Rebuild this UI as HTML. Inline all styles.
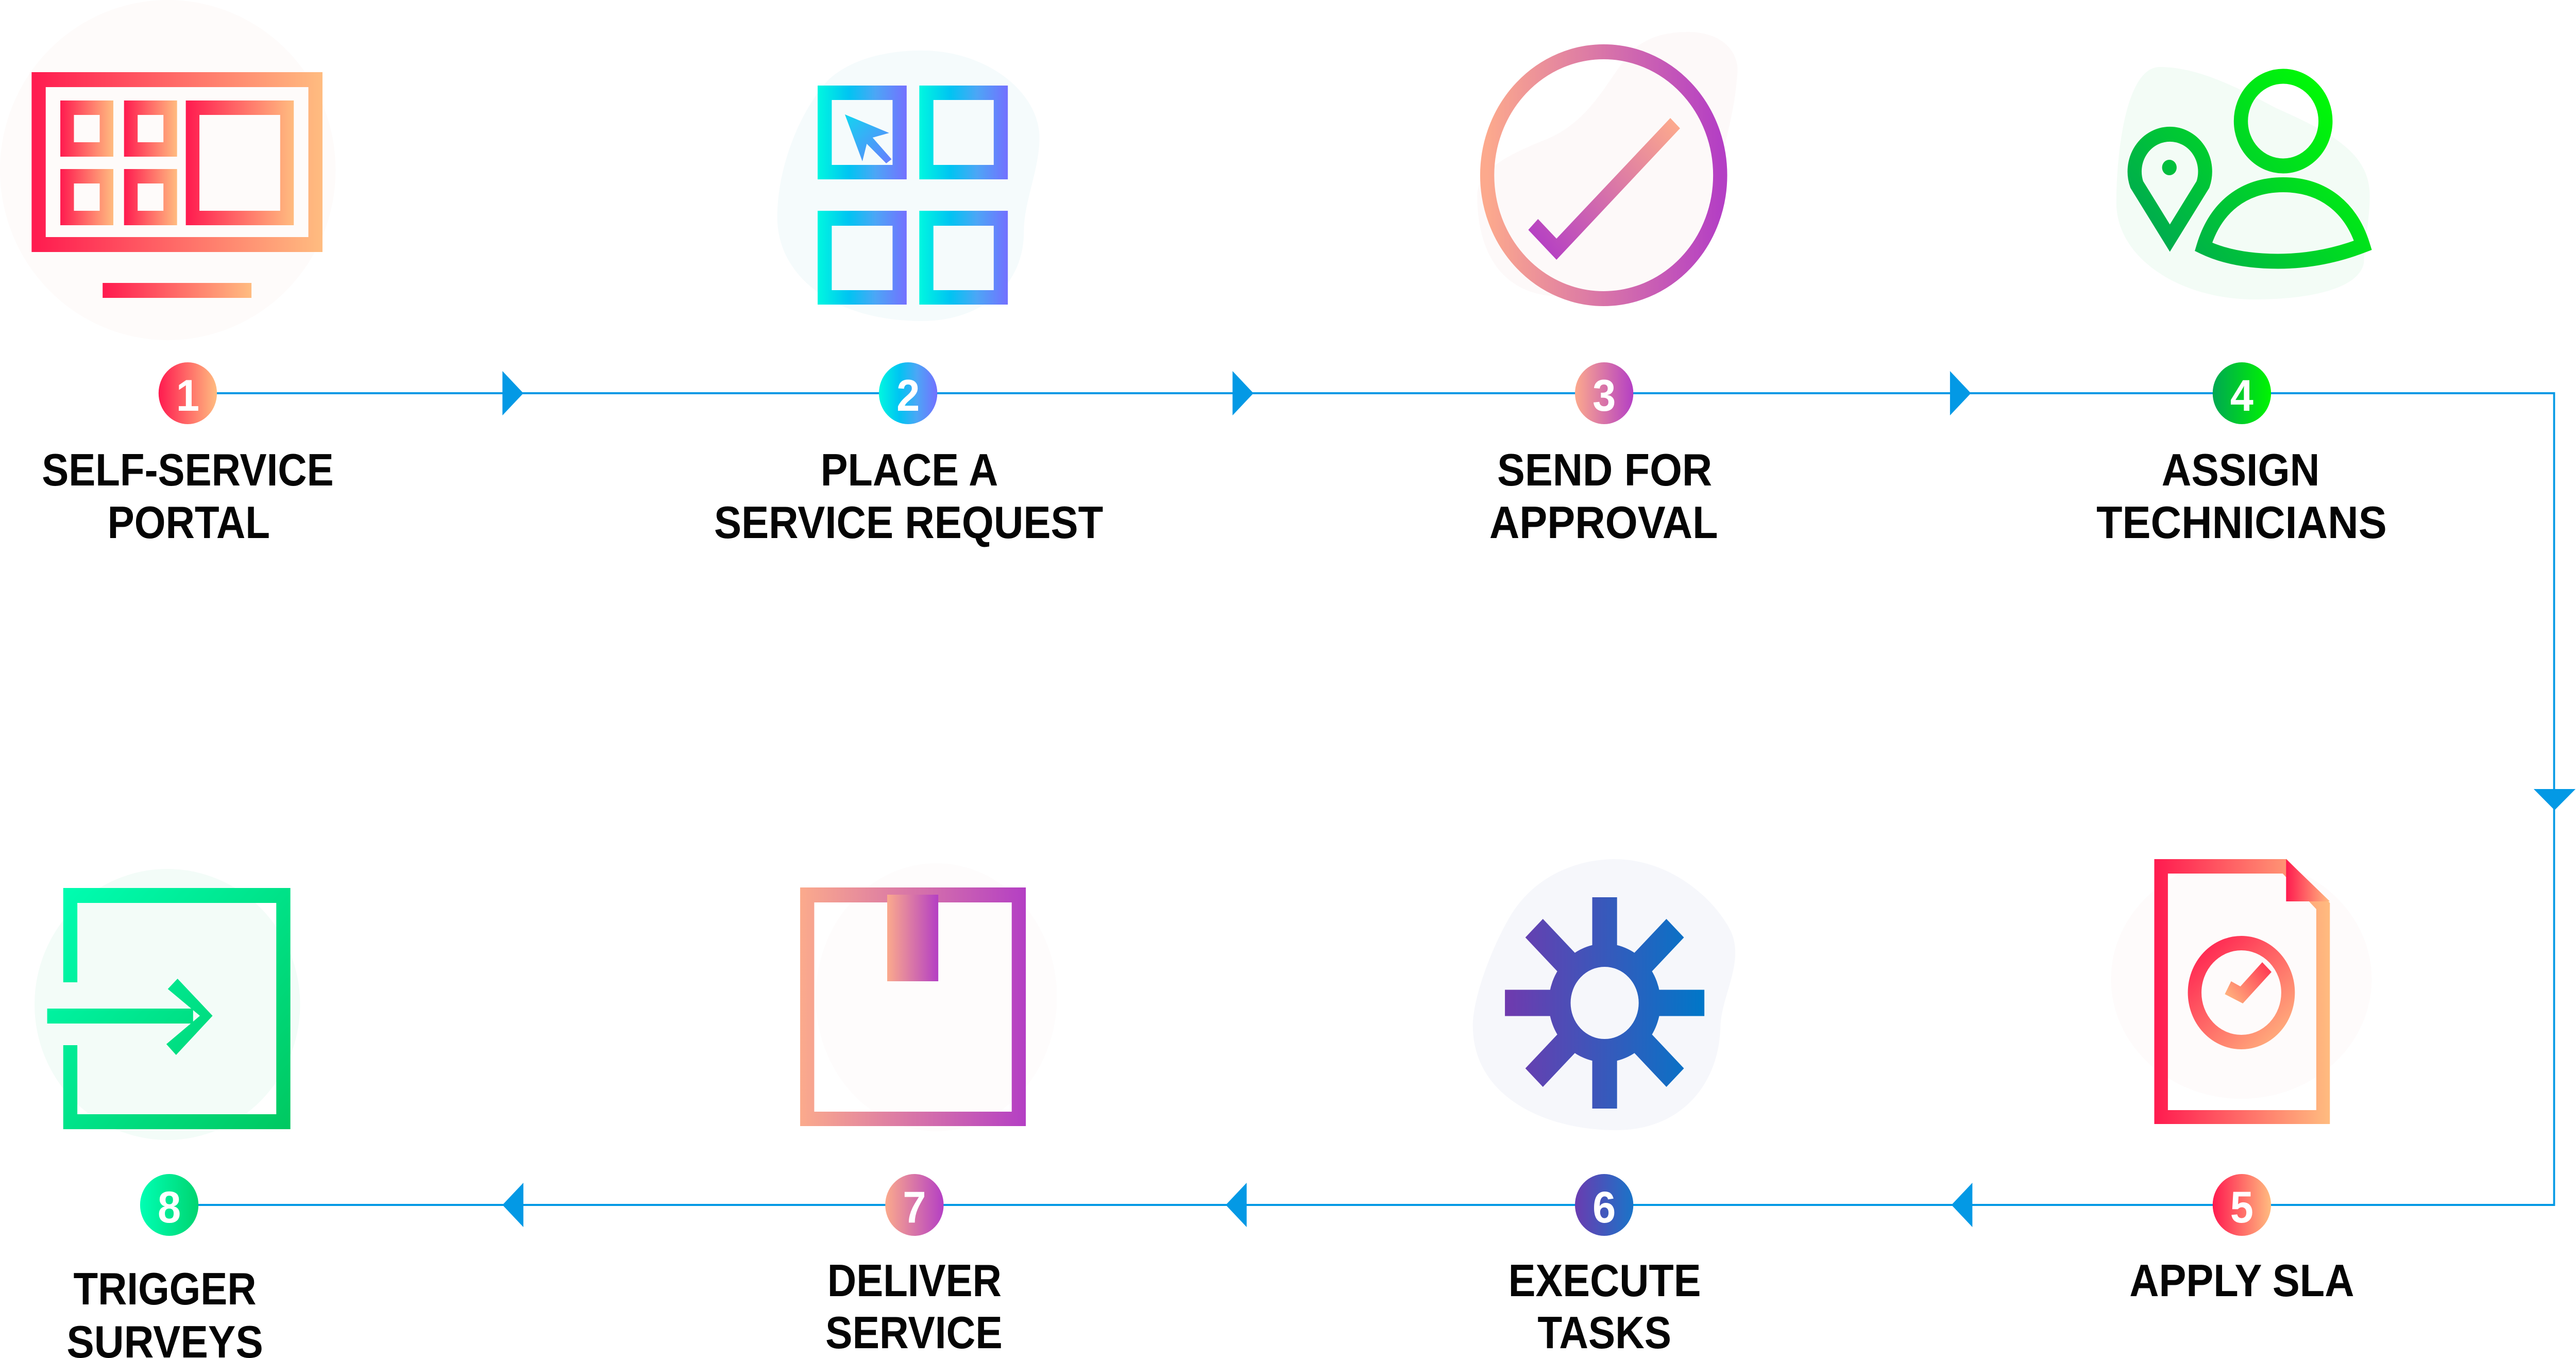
<!DOCTYPE html>
<html><head><meta charset="utf-8"><style>
html,body{margin:0;padding:0;background:#fff;width:100%;height:100%;overflow:hidden;}
svg{display:block;width:100vw;height:100vh;}
.t{font-family:"Liberation Sans",Arial,sans-serif;font-weight:700;font-size:88px;fill:#050505;}
.d{font-family:"Liberation Sans",Arial,sans-serif;font-weight:700;font-size:86px;fill:#fff;}
</style></head><body>
<svg viewBox="0 0 5296 2635" preserveAspectRatio="none" xmlns="http://www.w3.org/2000/svg">
<defs>
<linearGradient id="g1" x1="0" y1="0" x2="1" y2="0"><stop offset="0" stop-color="#ff1a4f"/><stop offset="1" stop-color="#ffbc80"/></linearGradient>
<linearGradient id="g2" x1="0" y1="0" x2="1" y2="0"><stop offset="0" stop-color="#00f7e0"/><stop offset="0.35" stop-color="#00c4f2"/><stop offset="0.65" stop-color="#4ca6f6"/><stop offset="1" stop-color="#7370ff"/></linearGradient>
<linearGradient id="g2c" x1="0" y1="0" x2="1" y2="1"><stop offset="0" stop-color="#10d6f0"/><stop offset="1" stop-color="#6a7cff"/></linearGradient>
<linearGradient id="g3" x1="0" y1="0" x2="1" y2="0"><stop offset="0" stop-color="#fca98d"/><stop offset="1" stop-color="#b43fc4"/></linearGradient>
<linearGradient id="g3k" gradientUnits="userSpaceOnUse" x1="3444" y1="239" x2="3170" y2="490"><stop offset="0" stop-color="#fca98d"/><stop offset="1" stop-color="#b43fc4"/></linearGradient>
<linearGradient id="g4" gradientUnits="userSpaceOnUse" x1="4800" y1="150" x2="4420" y2="480"><stop offset="0" stop-color="#00ff00"/><stop offset="1" stop-color="#00a852"/></linearGradient>
<linearGradient id="g4b" x1="0" y1="0" x2="1" y2="0"><stop offset="0" stop-color="#00a852"/><stop offset="1" stop-color="#00f500"/></linearGradient>
<linearGradient id="g5c" gradientUnits="userSpaceOnUse" x1="4520" y1="1830" x2="4700" y2="2030"><stop offset="0" stop-color="#ff2050"/><stop offset="1" stop-color="#ffb880"/></linearGradient>
<linearGradient id="g5k" gradientUnits="userSpaceOnUse" x1="4670" y1="1870" x2="4580" y2="1945"><stop offset="0" stop-color="#ff3050"/><stop offset="1" stop-color="#ffb880"/></linearGradient>
<linearGradient id="g6" gradientUnits="userSpaceOnUse" x1="3094" y1="0" x2="3503" y2="0"><stop offset="0" stop-color="#703aae"/><stop offset="1" stop-color="#0077c8"/></linearGradient>
<linearGradient id="g6b" x1="0" y1="0" x2="1" y2="0"><stop offset="0" stop-color="#6a3cb0"/><stop offset="1" stop-color="#1a74c8"/></linearGradient>
<linearGradient id="g7" x1="0" y1="0" x2="1" y2="0"><stop offset="0" stop-color="#fbaa8c"/><stop offset="1" stop-color="#b43fc4"/></linearGradient>
<linearGradient id="g8" gradientUnits="userSpaceOnUse" x1="100" y1="1720" x2="600" y2="2190"><stop offset="0" stop-color="#00ffb4"/><stop offset="1" stop-color="#00c860"/></linearGradient>
<linearGradient id="g8b" x1="0" y1="0" x2="1" y2="0"><stop offset="0" stop-color="#00ffb4"/><stop offset="1" stop-color="#00d470"/></linearGradient>
</defs>

<rect x="0" y="0" width="5296" height="2635" fill="#fff"/>

<!-- background blobs -->
<ellipse cx="345" cy="330" rx="345" ry="330" fill="#fefbfa"/>
<path d="M1895,98 C2030,98 2137,180 2137,267 C2137,330 2105,390 2105,449 C2105,560 2010,623 1895,623 C1720,623 1598,540 1598,421 C1598,330 1640,220 1704,154 C1750,115 1820,98 1895,98 Z" fill="#f5fbfc"/>
<path d="M3470,62 C3540,62 3575,100 3572,140 C3565,250 3520,350 3500,450 C3470,540 3350,580 3200,575 C3080,570 3037,480 3037,380 C3037,330 3100,300 3180,270 C3280,230 3310,140 3360,95 C3390,70 3430,62 3470,62 Z" fill="#fdf9f9"/>
<path d="M4440,130 C4520,130 4600,170 4680,210 C4800,260 4872,300 4872,380 C4872,430 4860,470 4860,510 C4850,560 4750,581 4636,581 C4480,581 4351,500 4351,393 C4351,300 4370,130 4440,130 Z" fill="#f3fcf6"/>
<ellipse cx="4608" cy="1900" rx="268" ry="232" fill="#fefbfb"/>
<path d="M3318,1667 C3440,1667 3530,1750 3560,1810 C3585,1870 3540,1930 3537,1991 C3535,2100 3460,2193 3322,2193 C3180,2193 3028,2130 3028,1990 C3028,1930 3075,1820 3112,1767 C3160,1700 3240,1667 3322,1667 Z" fill="#f6f7fb"/>
<ellipse cx="1925" cy="1935" rx="248" ry="260" fill="#fefcfc"/>
<ellipse cx="344" cy="1949" rx="273" ry="263" fill="#f3fcf8"/>

<!-- connectors -->
<polyline points="386,763 5251,763 5251,2338 348,2338" fill="none" stroke="#0399e5" stroke-width="4"/>
<polygon points="1033,720 1076,763 1033,806" fill="#0399e5"/>
<polygon points="2534,720 2577,763 2534,806" fill="#0399e5"/>
<polygon points="4009,720 4052,763 4009,806" fill="#0399e5"/>
<polygon points="5209,1531 5295,1531 5252,1572" fill="#0399e5"/>
<polygon points="4055,2295 4012,2338 4055,2381" fill="#0399e5"/>
<polygon points="2563,2295 2520,2338 2563,2381" fill="#0399e5"/>
<polygon points="1076,2295 1033,2338 1076,2381" fill="#0399e5"/>

<!-- icon 1 -->
<g fill-rule="evenodd">
<path d="M65,140 H663 V489 H65 Z M94,169 V460 H634 V169 Z" fill="url(#g1)"/>
<path d="M124,195 H233 V304 H124 Z M152,223 V276 H205 V223 Z" fill="url(#g1)"/>
<path d="M255,195 H364 V304 H255 Z M283,223 V276 H336 V223 Z" fill="url(#g1)"/>
<path d="M124,328 H233 V437 H124 Z M152,356 V409 H205 V356 Z" fill="url(#g1)"/>
<path d="M255,328 H364 V437 H255 Z M283,356 V409 H336 V356 Z" fill="url(#g1)"/>
<path d="M382,195 H604 V437 H382 Z M410,223 V409 H576 V223 Z" fill="url(#g1)"/>
<rect x="211" y="549" width="306" height="29" fill="url(#g1)"/>
</g>

<!-- icon 2 -->
<g fill-rule="evenodd">
<path d="M1681,166 H1864 V348 H1681 Z M1710,194 V320 H1835 V194 Z" fill="url(#g2)"/>
<path d="M1890,166 H2072 V348 H1890 Z M1919,194 V320 H2043 V194 Z" fill="url(#g2)"/>
<path d="M1681,409 H1864 V591 H1681 Z M1710,438 V563 H1835 V438 Z" fill="url(#g2)"/>
<path d="M1890,409 H2072 V591 H1890 Z M1919,438 V563 H2043 V438 Z" fill="url(#g2)"/>
<polygon points="1737,222 1828,258 1794,267 1833,309 1822,317 1782,279 1773,313" fill="url(#g2c)"/>
</g>

<!-- icon 3 -->
<circle cx="3297" cy="340" r="239.5" fill="none" stroke="url(#g3)" stroke-width="29"/>
<polygon points="3162,425 3200,463 3434,229 3454,249 3200,504 3142,446" fill="url(#g3k)"/>

<!-- icon 4 -->
<g fill="none" stroke="url(#g4)" stroke-width="29" stroke-linejoin="miter">
<ellipse cx="4694" cy="235" rx="87" ry="87"/>
<path d="M4530,479 C4555,400 4615,358.5 4694,358.5 C4773,358.5 4833,400 4858,476 C4800,497 4740,507 4683,507 C4625,507 4572,498 4530,479 Z"/>
<path d="M4461,462 L4393,358 A72.5,72.5 0 1,1 4529,358 Z"/>
</g>
<circle cx="4460" cy="325" r="15" fill="url(#g4)"/>

<!-- icon 5 -->
<path fill-rule="evenodd" d="M4429,1667 H4701 L4790,1752 V2181 H4429 Z M4457,1695 V2154 H4762 V1764 L4693,1695 Z" fill="url(#g1)"/>
<polygon points="4700,1667 4700,1749 4790,1749" fill="url(#g1)"/>
<circle cx="4608" cy="1926" r="96" fill="none" stroke="url(#g5c)" stroke-width="28"/>
<polygon points="4587,1904 4606,1914 4651,1867 4670,1886 4611,1947 4574,1929" fill="url(#g5k)"/>

<!-- icon 6 -->
<g stroke="url(#g6)" stroke-width="51" fill="none">
<line x1="3299" y1="1846" x2="3299" y2="1741"/>
<line x1="3299" y1="2046" x2="3299" y2="2151"/>
<line x1="3199" y1="1946" x2="3094" y2="1946"/>
<line x1="3399" y1="1946" x2="3504" y2="1946"/>
<line x1="3228" y1="1875" x2="3154" y2="1801"/>
<line x1="3370" y1="1875" x2="3444" y2="1801"/>
<line x1="3228" y1="2017" x2="3154" y2="2091"/>
<line x1="3370" y1="2017" x2="3444" y2="2091"/>
</g>
<circle cx="3299" cy="1946" r="92.5" fill="none" stroke="url(#g6)" stroke-width="45"/>

<!-- icon 7 -->
<path fill-rule="evenodd" d="M1645,1722 H2109 V2185 H1645 Z M1674,1751 V2157 H2080 V1751 Z" fill="url(#g7)"/>
<rect x="1824" y="1736" width="105" height="168" fill="url(#g7)"/>

<!-- icon 8 -->
<path d="M144.5,1906 V1737.5 H582.5 V2176.5 H144.5 V2028" fill="none" stroke="url(#g8)" stroke-width="29" stroke-linejoin="miter"/>
<rect x="97" y="1957" width="300" height="29" fill="url(#g8)"/>
<polygon points="365,1899 437,1971 362,2047 342,2026 411,1971 345,1919" fill="url(#g8)"/>

<!-- badges -->
<circle cx="386" cy="763" r="60" fill="url(#g1)"/>
<circle cx="1867" cy="763" r="60" fill="url(#g2)"/>
<circle cx="3298" cy="763" r="60" fill="url(#g3)"/>
<circle cx="4609" cy="763" r="60" fill="url(#g4b)"/>
<circle cx="4609" cy="2338" r="60" fill="url(#g1)"/>
<circle cx="3298" cy="2338" r="60" fill="url(#g6b)"/>
<circle cx="1880" cy="2338" r="60" fill="url(#g7)"/>
<circle cx="348" cy="2338" r="60" fill="url(#g8b)"/>
<g text-anchor="middle">
<text class="d" x="386" y="797">1</text>
<text class="d" x="1867" y="797">2</text>
<text class="d" x="3298" y="797">3</text>
<text class="d" x="4609" y="797">4</text>
<text class="d" x="4609" y="2372">5</text>
<text class="d" x="3298" y="2372">6</text>
<text class="d" x="1880" y="2372">7</text>
<text class="d" x="348" y="2372">8</text>
</g>

<!-- labels -->
<text class="t" x="86" y="942" textLength="600" lengthAdjust="spacingAndGlyphs">SELF-SERVICE</text>
<text class="t" x="221" y="1044" textLength="334" lengthAdjust="spacingAndGlyphs">PORTAL</text>
<text class="t" x="1687" y="942" textLength="365" lengthAdjust="spacingAndGlyphs">PLACE A</text>
<text class="t" x="1468" y="1044" textLength="800" lengthAdjust="spacingAndGlyphs">SERVICE REQUEST</text>
<text class="t" x="3078" y="942" textLength="442" lengthAdjust="spacingAndGlyphs">SEND FOR</text>
<text class="t" x="3062" y="1044" textLength="470" lengthAdjust="spacingAndGlyphs">APPROVAL</text>
<text class="t" x="4444" y="942" textLength="325" lengthAdjust="spacingAndGlyphs">ASSIGN</text>
<text class="t" x="4310" y="1044" textLength="597" lengthAdjust="spacingAndGlyphs">TECHNICIANS</text>
<text class="t" x="4378" y="2515" textLength="462" lengthAdjust="spacingAndGlyphs">APPLY SLA</text>
<text class="t" x="3101" y="2515" textLength="396" lengthAdjust="spacingAndGlyphs">EXECUTE</text>
<text class="t" x="3161" y="2616" textLength="275" lengthAdjust="spacingAndGlyphs">TASKS</text>
<text class="t" x="1701" y="2515" textLength="358" lengthAdjust="spacingAndGlyphs">DELIVER</text>
<text class="t" x="1697" y="2616" textLength="364" lengthAdjust="spacingAndGlyphs">SERVICE</text>
<text class="t" x="151" y="2531" textLength="376" lengthAdjust="spacingAndGlyphs">TRIGGER</text>
<text class="t" x="137" y="2634" textLength="404" lengthAdjust="spacingAndGlyphs">SURVEYS</text>
</svg>
</body></html>
